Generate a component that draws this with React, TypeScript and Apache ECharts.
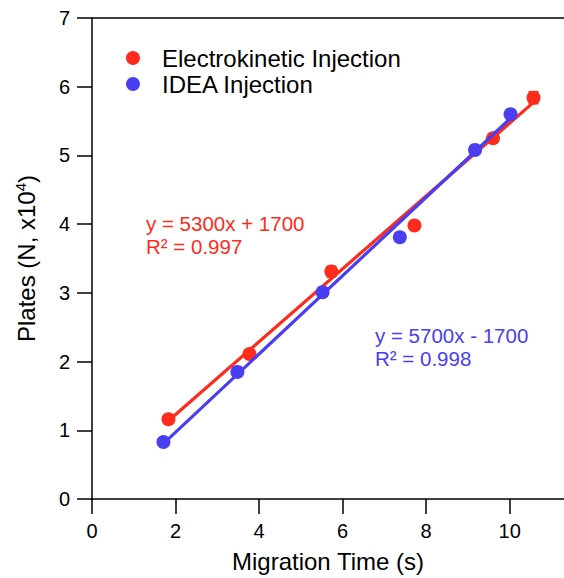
import { useEffect, useRef } from "react";
import * as echarts from "echarts";

// Electrokinetic injection: migration time (s) vs plates (N, x10^4)
const ekTime = [1.83, 3.77, 5.73, 7.72, 9.6, 10.57];
const ekPlates = [1.16, 2.11, 3.31, 3.98, 5.25, 5.84];
const ekError = [0.03, 0.03, 0.07, 0.05, 0.04, 0.08];
// IDEA injection
const ideaTime = [1.71, 3.48, 5.52, 7.37, 9.17, 10.02];
const ideaPlates = [0.83, 1.85, 3.01, 3.81, 5.08, 5.6];
// Linear fits (in units of 10^4 plates): y = slope*x + intercept
const ekFit = [0.53, 0.17];
const ideaFit = [0.57, -0.17];
const xTicks = [0, 2, 4, 6, 8, 10];

const RED = "#ff2b1c";
const BLUE = "#4a3ef2";
const FONT = "'Liberation Sans', Arial, Helvetica, sans-serif";

function fitLine(xs: number[], fit: number[]) {
  const x0 = xs[0];
  const x1 = xs[xs.length - 1];
  return [
    [x0, fit[0] * x0 + fit[1]],
    [x1, fit[0] * x1 + fit[1]],
  ];
}

export default function App() {
  const ref = useRef<HTMLDivElement>(null);
  useEffect(() => {
    if (!ref.current) return;
    const chart = echarts.init(ref.current, null, { renderer: "svg" });
    const axisLineStyle = { color: "#000", width: 1.5 };
    chart.setOption({
      animation: false,
      backgroundColor: "#fff",
      textStyle: { fontFamily: FONT },
      grid: { left: 92, top: 18, right: 0, bottom: 79, outerBoundsMode: "none", containLabel: false },
      legend: {
        orient: "vertical",
        left: 121,
        top: 40,
        itemGap: 0,
        itemWidth: 14,
        itemHeight: 14,
        icon: "circle",
        data: ["Electrokinetic Injection", "IDEA Injection"],
        textStyle: {
          fontFamily: FONT,
          fontSize: 24,
          color: "#000",
          lineHeight: 26,
          padding: [0, 0, 0, 17],
        },
      },
      xAxis: [
        {
          type: "value",
          min: 0,
          max: 11.3,
          interval: 2,
          name: "Migration Time (s)",
          nameLocation: "middle",
          nameGap: 50,
          nameTextStyle: { fontFamily: FONT, fontSize: 24, color: "#000" },
          axisLine: { show: true, onZero: false, lineStyle: axisLineStyle },
          axisTick: { show: true, length: 15, lineStyle: axisLineStyle, customValues: xTicks },
          axisLabel: { margin: 22, fontSize: 20, color: "#000", fontFamily: FONT, customValues: xTicks },
          splitLine: { show: false },
        },
        {
          type: "value",
          position: "top",
          min: 0,
          max: 11.3,
          axisLine: { show: true, onZero: false, lineStyle: axisLineStyle },
          axisTick: { show: false },
          axisLabel: { show: false },
          splitLine: { show: false },
        },
      ],
      yAxis: {
        type: "value",
        min: 0,
        max: 7,
        interval: 1,
        name: "Plates (N, x10{sup|4})",
        nameLocation: "middle",
        nameGap: 53,
        nameTextStyle: {
          fontFamily: FONT,
          fontSize: 24,
          color: "#000",
          lineHeight: 26,
          rich: {
            sup: { fontFamily: FONT, fontSize: 15, color: "#000", verticalAlign: "top", lineHeight: 26, padding: [0, 0, 10, 0] },
          },
        },
        axisLine: { show: true, onZero: false, lineStyle: axisLineStyle },
        axisTick: { show: true, length: 15, lineStyle: axisLineStyle },
        axisLabel: { margin: 22, fontSize: 20, color: "#000", fontFamily: FONT },
        splitLine: { show: false },
      },
      series: [
        {
          name: "Electrokinetic fit",
          type: "line",
          data: fitLine(ekTime, ekFit),
          symbol: "none",
          lineStyle: { color: RED, width: 3.2 },
          z: 2,
        },
        {
          name: "Electrokinetic error",
          type: "custom",
          data: ekTime.map((t, i) => [t, ekPlates[i] - ekError[i], ekPlates[i] + ekError[i]]),
          renderItem: (params: any, api: any) => {
            const lo = api.coord([api.value(0), api.value(1)]);
            const hi = api.coord([api.value(0), api.value(2)]);
            const w = 5;
            const style = { stroke: RED, lineWidth: 2.5 };
            return {
              type: "group",
              children: [
                { type: "line", shape: { x1: lo[0], y1: lo[1], x2: hi[0], y2: hi[1] }, style },
                { type: "line", shape: { x1: lo[0] - w, y1: lo[1], x2: lo[0] + w, y2: lo[1] }, style },
                { type: "line", shape: { x1: hi[0] - w, y1: hi[1], x2: hi[0] + w, y2: hi[1] }, style },
              ],
            };
          },
          z: 3,
        },
        {
          name: "Electrokinetic Injection",
          type: "scatter",
          data: ekTime.map((t, i) => [t, ekPlates[i]]),
          symbol: "circle",
          symbolSize: 14,
          itemStyle: { color: RED, opacity: 1 },
          z: 4,
        },
        {
          name: "IDEA fit",
          type: "line",
          data: fitLine(ideaTime, ideaFit),
          symbol: "none",
          lineStyle: { color: BLUE, width: 3.2 },
          z: 5,
        },
        {
          name: "IDEA Injection",
          type: "scatter",
          data: ideaTime.map((t, i) => [t, ideaPlates[i]]),
          symbol: "circle",
          symbolSize: 14,
          itemStyle: { color: BLUE, opacity: 1 },
          z: 6,
        },
      ],
      graphic: [
        {
          type: "text",
          left: 146,
          top: 212,
          style: {
            text: "y = 5300x + 1700\nR² = 0.997",
            fill: RED,
            fontSize: 20.5,
            lineHeight: 23,
            fontFamily: FONT,
          },
        },
        {
          type: "text",
          left: 375,
          top: 324,
          style: {
            text: "y = 5700x - 1700\nR² = 0.998",
            fill: BLUE,
            fontSize: 20.5,
            lineHeight: 23,
            fontFamily: FONT,
          },
        },
      ],
    });
    return () => chart.dispose();
  }, []);
  return (
    <div
      ref={ref}
      style={{ position: "absolute", left: 0, top: 0, width: 564, height: 578 }}
    />
  );
}
